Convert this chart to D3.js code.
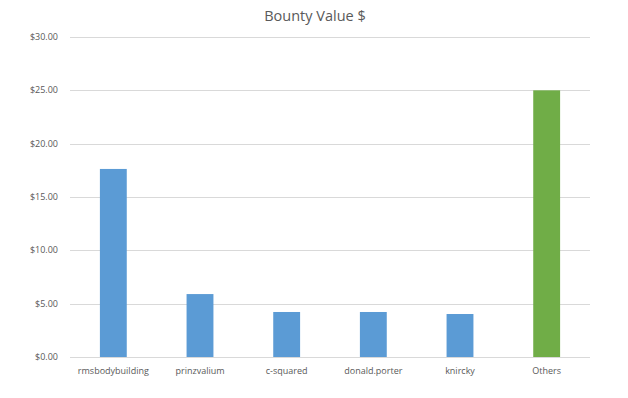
<!DOCTYPE html>
<html lang="en">
<head>
    <meta charset="UTF-8">
    <title>Bounty Value $</title>
    <script src="https://d3js.org/d3.v7.min.js"></script>
    <style>
        body { margin: 0; background: #fff; }
        text { font-family: "Open Sans", sans-serif; fill: #595959; }
    </style>
</head>
<body>
    <script>
        // Chart data
        var categories = ["rmsbodybuilding", "prinzvalium", "c-squared", "donald.porter", "knircky", "Others"];
        var bountyValues = [17.63, 5.9, 4.22, 4.22, 4.03, 25.0];
        var yTicks = [0, 5, 10, 15, 20, 25, 30];

        var width = 628, height = 398;
        var margin = { top: 37, right: 38, bottom: 41, left: 70 };

        var svg = d3.select("body")
            .append("svg")
            .attr("width", width)
            .attr("height", height);

        var x = d3.scaleBand()
            .domain(categories)
            .range([margin.left, width - margin.right])
            .paddingInner(0.69)
            .paddingOuter(0.345);

        var y = d3.scaleLinear()
            .domain([0, 30])
            .range([height - margin.bottom, margin.top]);

        // Gridlines
        svg.append("g")
            .selectAll("line")
            .data(yTicks)
            .enter().append("line")
            .attr("x1", margin.left)
            .attr("x2", width - margin.right)
            .attr("y1", d => Math.round(y(d)) + 0.5)
            .attr("y2", d => Math.round(y(d)) + 0.5)
            .attr("stroke", "#d9d9d9")
            .attr("stroke-width", 1);

        // Y axis labels
        svg.append("g")
            .selectAll("text")
            .data(yTicks)
            .enter().append("text")
            .attr("x", margin.left - 12)
            .attr("y", d => y(d))
            .attr("dy", "0.35em")
            .attr("text-anchor", "end")
            .style("font-size", "9px")
            .text(d => "$" + d3.format(".2f")(d));

        // Bars
        svg.append("g")
            .selectAll("rect")
            .data(bountyValues)
            .enter().append("rect")
            .attr("x", (d, i) => x(categories[i]))
            .attr("width", x.bandwidth())
            .attr("y", d => y(d))
            .attr("height", d => y(0) - y(d))
            .attr("fill", (d, i) => categories[i] === "Others" ? "#70ad47" : "#5b9bd5");

        // Category labels
        svg.append("g")
            .selectAll("text")
            .data(categories)
            .enter().append("text")
            .attr("x", d => x(d) + x.bandwidth() / 2)
            .attr("y", y(0) + 14)
            .attr("dy", "0.35em")
            .attr("text-anchor", "middle")
            .style("font-size", "9px")
            .text(d => d);

        // Title
        svg.append("text")
            .attr("x", width / 2 + 1)
            .attr("y", 16)
            .attr("dy", "0.35em")
            .attr("text-anchor", "middle")
            .style("font-size", "14.5px")
            .text("Bounty Value $");
    </script>
</body>
</html>
